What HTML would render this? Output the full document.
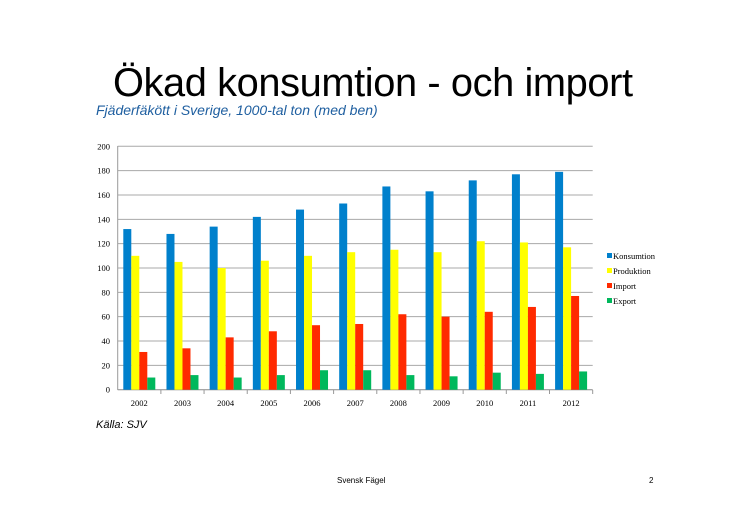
<!DOCTYPE html>
<html><head><meta charset="utf-8"><style>
body{margin:0;width:746px;height:527px;background:#fff;overflow:hidden;position:relative;font-family:"Liberation Sans",sans-serif}
.t{position:absolute;white-space:nowrap}
</style></head><body>
<div class="t" style="left:113px;top:61px;font-size:39.8px;color:#000;letter-spacing:-0.4px">Ökad konsumtion - och import</div>
<div class="t" style="left:96px;top:102px;font-size:14px;font-style:italic;color:#1f5fa0">Fjäderfäkött i Sverige, 1000-tal ton (med ben)</div>
<div class="t" style="left:96px;top:419px;font-size:11px;font-style:italic;color:#000">Källa: SJV</div>
<div class="t" style="left:337px;top:476px;font-size:8px;color:#000">Svensk Fägel</div>
<div class="t" style="left:649px;top:476px;font-size:8px;color:#000">2</div>
<svg width="746" height="527" style="position:absolute;left:0;top:0" font-family="Liberation Serif, serif">
<g id="g"></g>
</svg>
<script>
var g=document.getElementById('g'),s='';
var y0=389.7,k=243.4/200,x0=117.7,w=43.18;
for(var i=0;i<=10;i++){var y=y0-i*20*k;s+='<line x1="117.7" x2="592.7" y1="'+y+'" y2="'+y+'" stroke="'+(i?'#a8a8a8':'#888')+'" stroke-width="1"/>';s+='<text x="110" y="'+(y+3)+'" font-size="8.5" text-anchor="end">'+(i*20)+'</text>';}
s+='<line x1="117.7" x2="117.7" y1="146" y2="390" stroke="#999"/>';
var d=[[132,110,31,10],[128,105,34,12],[134,100,43,10],[142,106,48,12],[148,110,53,16],[153,113,54,16],[167,115,62,12],[163,113,60,11],[172,122,64,14],[177,121,68,13],[179,117,77,15]];
var c=['#0080cc','#ffff00','#ff2a00','#00b85c'];
for(var j=0;j<11;j++){var gx=x0+j*w;s+='<line x1="'+(gx+w)+'" x2="'+(gx+w)+'" y1="390" y2="394" stroke="#999"/>';
for(var b=0;b<4;b++){var h=d[j][b]*k;s+='<rect x="'+(gx+5.6+b*8)+'" y="'+(y0-h)+'" width="8" height="'+h+'" fill="'+c[b]+'"/>';}
s+='<text x="'+(gx+w/2)+'" y="406" font-size="8.5" text-anchor="middle">'+(2002+j)+'</text>';}
var L=['Konsumtion','Produktion','Import','Export'];
for(var b=0;b<4;b++){var y=253+b*15;s+='<rect x="607" y="'+y+'" width="5" height="5" fill="'+c[b]+'"/><text x="613" y="'+(y+6)+'" font-size="8.5">'+L[b]+'</text>';}
g.innerHTML=s;
</script>
</body></html>
